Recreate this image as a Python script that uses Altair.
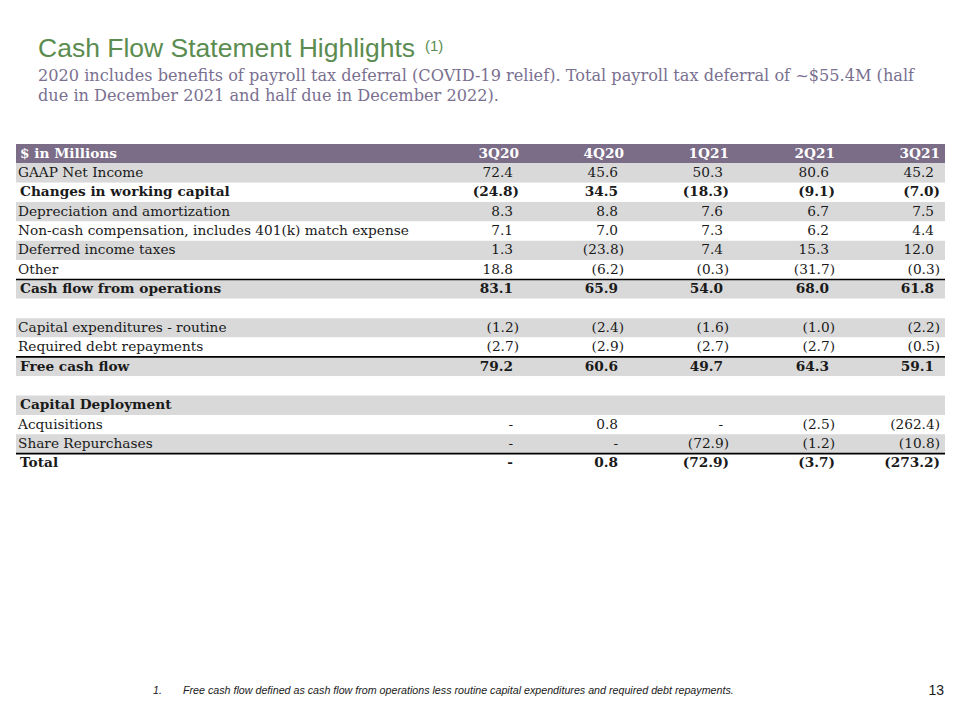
import altair as alt
import pandas as pd

# ---------------- data ----------------
row_labels = [
    "$ in Millions",
    "GAAP Net Income",
    "Changes in working capital",
    "Depreciation and amortization",
    "Non-cash compensation, includes 401(k) match expense",
    "Deferred income taxes",
    "Other",
    "Cash flow from operations",
    "",
    "Capital expenditures - routine",
    "Required debt repayments",
    "Free cash flow",
    "",
    "Capital Deployment",
    "Acquisitions",
    "Share Repurchases",
    "Total",
]
bold_rows = [0, 2, 7, 11, 13, 16]
rule_rows = [7, 11, 16]          # a rule sits on top of these rows

quarters = ["3Q20", "4Q20", "1Q21", "2Q21", "3Q21"]
value_rows = [1, 2, 3, 4, 5, 6, 7, 9, 10, 11, 14, 15, 16]
# None = "-"
q3_20 = [72.4, -24.8, 8.3, 7.1, 1.3, 18.8, 83.1, -1.2, -2.7, 79.2, None, None, None]
q4_20 = [45.6, 34.5, 8.8, 7.0, -23.8, -6.2, 65.9, -2.4, -2.9, 60.6, 0.8, None, 0.8]
q1_21 = [50.3, -18.3, 7.6, 7.3, 7.4, -0.3, 54.0, -1.6, -2.7, 49.7, None, -72.9, -72.9]
q2_21 = [80.6, -9.1, 6.7, 6.2, 15.3, -31.7, 68.0, -1.0, -2.7, 64.3, -2.5, -1.2, -3.7]
q3_21 = [45.2, -7.0, 7.5, 4.4, 12.0, -0.3, 61.8, -2.2, -0.5, 59.1, -262.4, -10.8, -273.2]
series = [q3_20, q4_20, q1_21, q2_21, q3_21]

title_text = "Cash Flow Statement Highlights"
title_note = "(1)"
subtitle_lines = [
    "2020 includes benefits of payroll tax deferral (COVID-19 relief). Total payroll tax deferral of ~$55.4M (half",
    "due in December 2021 and half due in December 2022).",
]
footnote_text = "Free cash flow defined as cash flow from operations less routine capital expenditures and required debt repayments."
page_number = "13"

# ---------------- layout / style ----------------
W, H = 944, 704
TABLE_LEFT, TABLE_RIGHT = 8, 937
COL_RIGHT = [511, 616, 721, 827, 932]
PAREN_SHIFT = 6
ROW_TOP, ROW_BOTTOM = 136, 465
N_ROWS = len(row_labels)

PURPLE = "#7b6c87"
GRAY = "#d9d9d9"
GREEN = "#5b8c50"
SUB = "#7a7090"
SERIF = "DejaVu Serif"
SANS = "Liberation Sans"
FS = 13.7


def fmt(v):
    if v is None:
        return "-"
    if v < 0:
        return f"({abs(v):.1f})"
    return f"{v:.1f}"


# rows backgrounds
bg = pd.DataFrame({
    "row": list(range(N_ROWS)),
    "row2": [i + 1 for i in range(N_ROWS)],
    "x": TABLE_LEFT,
    "x2": TABLE_RIGHT,
    "fill": [PURPLE if i == 0 else (GRAY if i % 2 == 1 else "#ffffff") for i in range(N_ROWS)],
})

rules = pd.DataFrame({"row": rule_rows, "x": TABLE_LEFT, "x2": TABLE_RIGHT})

labels = pd.DataFrame({
    "row": [i + 0.5 for i in range(N_ROWS)],
    "label": row_labels,
    "bold": [i in bold_rows for i in range(N_ROWS)],
    "x": [TABLE_LEFT + (4 if i in bold_rows else 2) for i in range(N_ROWS)],
})
labels = labels[(labels["label"] != "") & (labels.index != 0)]

header = pd.DataFrame({
    "row": [0.5] * (len(quarters) + 1),
    "label": ["$ in Millions"] + quarters,
    "x": [TABLE_LEFT + 4] + COL_RIGHT,
    "align": ["left"] + ["right"] * len(quarters),
})

recs = []
for qi, vals in enumerate(series):
    for r, v in zip(value_rows, vals):
        txt = fmt(v)
        paren = txt.startswith("(")
        recs.append({
            "row": r + 0.5,
            "txt": txt,
            "x": COL_RIGHT[qi] - (0 if paren else PAREN_SHIFT),
            "bold": r in bold_rows,
        })
vals_df = pd.DataFrame(recs)

xs = alt.Scale(domain=[0, W], range=[0, W], zero=False, nice=False)
ys = alt.Scale(domain=[0, N_ROWS], range=[ROW_TOP, ROW_BOTTOM], zero=False, nice=False)
X = lambda f="x": alt.X(f"{f}:Q", scale=xs, axis=None)
Y = lambda f="row": alt.Y(f"{f}:Q", scale=ys, axis=None)

bg_layer = alt.Chart(bg).mark_rect().encode(
    x=X(), x2="x2:Q", y=Y(), y2="row2:Q",
    fill=alt.Fill("fill:N", scale=None),
)

rule_layer = alt.Chart(rules).mark_rule(color="#000000", strokeWidth=1.6).encode(
    x=X(), x2="x2:Q", y=Y(),
)

lab_reg = alt.Chart(labels[~labels["bold"]]).mark_text(
    align="left", baseline="middle", font=SERIF, fontSize=FS, color="#1a1a1a"
).encode(x=X(), y=Y(), text="label:N")
lab_bold = alt.Chart(labels[labels["bold"]]).mark_text(
    align="left", baseline="middle", font=SERIF, fontSize=FS, fontWeight="bold", color="#1a1a1a"
).encode(x=X(), y=Y(), text="label:N")

hdr_left = alt.Chart(header[header["align"] == "left"]).mark_text(
    align="left", baseline="middle", font=SERIF, fontSize=FS, fontWeight="bold", color="#ffffff"
).encode(x=X(), y=Y(), text="label:N")
hdr_right = alt.Chart(header[header["align"] == "right"]).mark_text(
    align="right", baseline="middle", font=SERIF, fontSize=FS, fontWeight="bold", color="#ffffff"
).encode(x=X(), y=Y(), text="label:N")

val_reg = alt.Chart(vals_df[~vals_df["bold"]]).mark_text(
    align="right", baseline="middle", font=SERIF, fontSize=FS, color="#1a1a1a"
).encode(x=X(), y=Y(), text="txt:N")
val_bold = alt.Chart(vals_df[vals_df["bold"]]).mark_text(
    align="right", baseline="middle", font=SERIF, fontSize=FS, fontWeight="bold", color="#1a1a1a"
).encode(x=X(), y=Y(), text="txt:N")

title_layer = alt.Chart(pd.DataFrame({"t": [title_text]})).mark_text(
    align="left", baseline="alphabetic", font=SANS, fontSize=26.5, color=GREEN
).encode(x=alt.value(30), y=alt.value(49), text="t:N")
note_layer = alt.Chart(pd.DataFrame({"t": [title_note]})).mark_text(
    align="left", baseline="alphabetic", font=SANS, fontSize=15, color=GREEN
).encode(x=alt.value(417), y=alt.value(43), text="t:N")
sub1 = alt.Chart(pd.DataFrame({"t": [subtitle_lines[0]]})).mark_text(
    align="left", baseline="alphabetic", font=SERIF, fontSize=16.15, color=SUB
).encode(x=alt.value(30), y=alt.value(73), text="t:N")
sub2 = alt.Chart(pd.DataFrame({"t": [subtitle_lines[1]]})).mark_text(
    align="left", baseline="alphabetic", font=SERIF, fontSize=16.15, color=SUB
).encode(x=alt.value(30), y=alt.value(93), text="t:N")
fn_num = alt.Chart(pd.DataFrame({"t": ["1."]})).mark_text(
    align="left", baseline="alphabetic", font=SANS, fontSize=10.7, fontStyle="italic", color="#1a1a1a"
).encode(x=alt.value(145), y=alt.value(686), text="t:N")
fn_txt = alt.Chart(pd.DataFrame({"t": [footnote_text]})).mark_text(
    align="left", baseline="alphabetic", font=SANS, fontSize=10.7, fontStyle="italic", color="#1a1a1a"
).encode(x=alt.value(175), y=alt.value(686), text="t:N")
page_layer = alt.Chart(pd.DataFrame({"t": [page_number]})).mark_text(
    align="right", baseline="alphabetic", font=SANS, fontSize=14, color="#1a1a1a"
).encode(x=alt.value(936), y=alt.value(687), text="t:N")

chart = alt.layer(
    bg_layer, rule_layer, lab_reg, lab_bold, hdr_left, hdr_right, val_reg, val_bold,
    title_layer, note_layer, sub1, sub2, fn_num, fn_txt, page_layer,
).properties(
    width=W, height=H, padding=0, autosize=alt.AutoSizeParams(type="none"),
    background="#ffffff",
).configure_view(stroke=None)

chart.save("out.html", embed_options={"renderer": "svg", "actions": False})
